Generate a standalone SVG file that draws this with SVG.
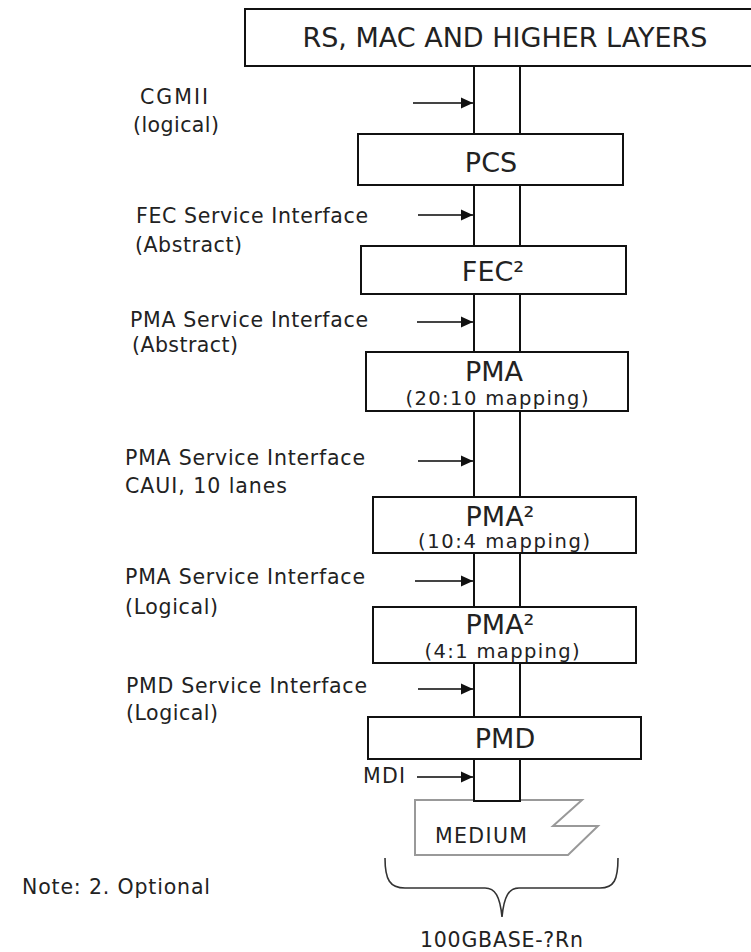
<svg xmlns="http://www.w3.org/2000/svg" width="751" height="952" viewBox="0 0 751 952">
<defs>
<style>
.box{fill:#fff;stroke:#111;stroke-width:2}
.ln{stroke:#111;stroke-width:2;fill:none}
.arr{stroke:#444;stroke-width:2;fill:none;marker-end:url(#ah)}
.lbl{font-family:"DejaVu Sans","Liberation Sans",sans-serif;font-size:20.5px;fill:#222}
.nt{font-family:"DejaVu Sans","Liberation Sans",sans-serif;font-size:27px;fill:#222;text-anchor:middle}
.sub{font-family:"DejaVu Sans","Liberation Sans",sans-serif;font-size:19.5px;fill:#222;text-anchor:middle}
</style>
<marker id="ah" viewBox="0 0 10 10" refX="10" refY="5" markerWidth="6" markerHeight="6" markerUnits="strokeWidth" orient="auto">
<path d="M0,0.5 L10,5 L0,9.5 Z" fill="#111"/>
</marker>
</defs>
<rect width="751" height="952" fill="#fff"/>

<g id="connectors">
<path class="ln" d="M474,66 V134 M520,66 V134"/>
<path class="ln" d="M474,185 V246 M520,185 V246"/>
<path class="ln" d="M474,294 V352 M520,294 V352"/>
<path class="ln" d="M474,411 V497 M520,411 V497"/>
<path class="ln" d="M474,553 V607 M520,553 V607"/>
<path class="ln" d="M474,663 V717 M520,663 V717"/>
<line class="arr" x1="413" y1="103" x2="473" y2="103"/>
<line class="arr" x1="418" y1="215" x2="473" y2="215"/>
<line class="arr" x1="417" y1="322" x2="473" y2="322"/>
<line class="arr" x1="418" y1="461" x2="473" y2="461"/>
<line class="arr" x1="415" y1="581" x2="473" y2="581"/>
<line class="arr" x1="418" y1="689" x2="473" y2="689"/>
<line class="arr" x1="417" y1="777" x2="473" y2="777"/>
</g>

<g id="top">
<rect class="box" x="245" y="9" width="515" height="57"/>
<text class="nt" x="505" y="47" textLength="405">RS, MAC AND HIGHER LAYERS</text>
</g>
<g id="pcs">
<rect class="box" x="358" y="134" width="265" height="51"/>
<text class="nt" x="491" y="172">PCS</text>
</g>
<g id="fec">
<rect class="box" x="361" y="246" width="265" height="48"/>
<text class="nt" x="493" y="281">FEC²</text>
</g>
<g id="pma1">
<rect class="box" x="366" y="352" width="262" height="59"/>
<text class="nt" x="494" y="381">PMA</text>
<text class="sub" x="497" y="405" textLength="183">(20:10 mapping)</text>
</g>
<g id="pma2">
<rect class="box" x="373" y="497" width="263" height="56"/>
<text class="nt" x="500" y="526">PMA²</text>
<text class="sub" x="504" y="548" textLength="172">(10:4 mapping)</text>
</g>
<g id="pma3">
<rect class="box" x="373" y="607" width="263" height="56"/>
<text class="nt" x="500" y="634">PMA²</text>
<text class="sub" x="502" y="658" textLength="155">(4:1 mapping)</text>
</g>
<g id="pmd">
<rect class="box" x="368" y="717" width="273" height="42"/>
<text class="nt" x="505" y="748">PMD</text>
</g>
<g id="medium">
<path d="M415,800 L582,800 L553,826 L598,826 L568,855 L415,855 Z" fill="#fff" stroke="#999" stroke-width="2"/>
<text class="lbl" x="435" y="843" textLength="92">MEDIUM</text>
</g>
<g id="mdi-link">
<rect class="box" x="474" y="759" width="46" height="42"/>
</g>
<g id="brace">
<path d="M385,858 C385,880 390,888 405,888 L485,888 C495,888 500,896 502,917 C504,896 509,888 519,888 L600,888 C614,888 618,880 618,858" fill="none" stroke="#333" stroke-width="1.6"/>
<text class="lbl" x="420" y="947" textLength="163">100GBASE-?Rn</text>
</g>

<g id="labels">
<text class="lbl" x="140" y="104" textLength="68">CGMII</text>
<text class="lbl" x="133" y="132" textLength="86">(logical)</text>
<text class="lbl" x="136" y="223" textLength="232">FEC Service Interface</text>
<text class="lbl" x="135" y="252" textLength="107">(Abstract)</text>
<text class="lbl" x="130" y="327" textLength="238">PMA Service Interface</text>
<text class="lbl" x="132" y="352" textLength="106">(Abstract)</text>
<text class="lbl" x="125" y="465" textLength="240">PMA Service Interface</text>
<text class="lbl" x="125" y="493" textLength="162">CAUI, 10 lanes</text>
<text class="lbl" x="125" y="584" textLength="240">PMA Service Interface</text>
<text class="lbl" x="125" y="614" textLength="93">(Logical)</text>
<text class="lbl" x="126" y="693" textLength="241">PMD Service Interface</text>
<text class="lbl" x="126" y="720" textLength="92">(Logical)</text>
<text class="lbl" x="363" y="783" textLength="42">MDI</text>
<text class="lbl" x="22" y="894" textLength="188">Note: 2. Optional</text>
</g>
</svg>
